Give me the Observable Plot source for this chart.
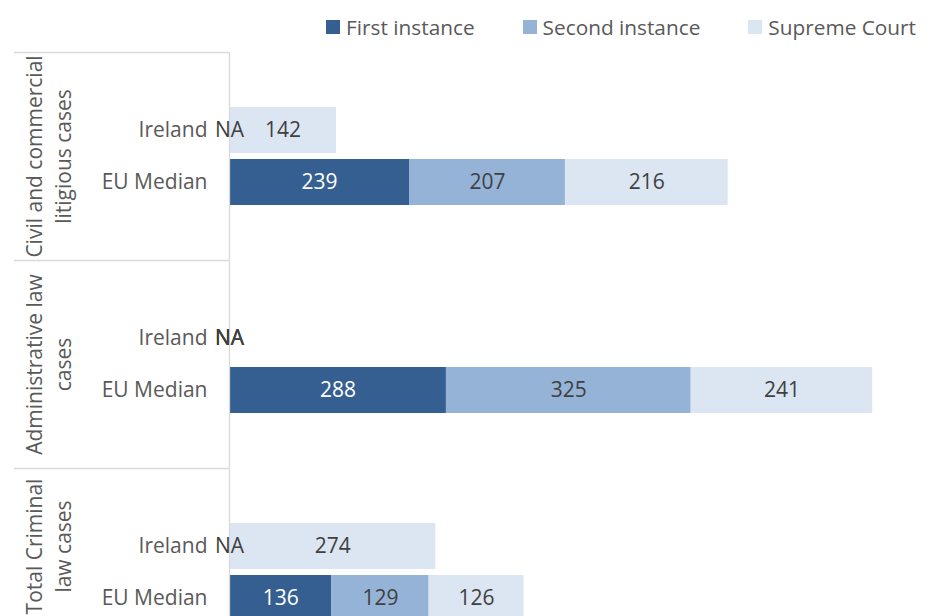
<!DOCTYPE html>
<html><head><meta charset="utf-8">
<script src="https://cdn.jsdelivr.net/npm/d3@7"></script>
<script src="https://cdn.jsdelivr.net/npm/@observablehq/plot@0.6"></script>
<style>
html,body{margin:0;padding:0;background:#fff;overflow:hidden;}
#wrap{position:relative;width:937px;height:616px;overflow:hidden;font-family:"Open Sans",sans-serif;}
#legend{position:absolute;top:12px;right:21px;height:30px;display:flex;align-items:center;gap:48px;font-size:20.8px;color:#595959;}
.item{display:flex;align-items:center;gap:6px;}
.sw{width:14px;height:14px;display:inline-block;}
#chart{position:absolute;top:50px;left:0;}
</style></head><body><div id="wrap"><div id="legend"></div><div id="chart"></div></div>
<script>
const groups = ["Civil and commercial litigious cases", "Administrative law cases", "Total Criminal law cases"];
const groupLabels = ["Civil and commercial\nlitigious cases", "Administrative law\ncases", "Total Criminal\nlaw cases"];
const rows = ["Ireland", "EU Median"];
const series = ["First instance", "Second instance", "Supreme Court"];
const seriesColors = ["#355f91", "#95b3d7", "#dce6f2"];

const irelandFirst = ["NA", "NA", "NA"];
const irelandSecond = [null, "NA", null];
const irelandSupreme = [142, "NA", 274];
const euFirst = [239, 288, 136];
const euSecond = [207, 325, 129];
const euSupreme = [216, 241, 126];

const byRow = {"Ireland": [irelandFirst, irelandSecond, irelandSupreme], "EU Median": [euFirst, euSecond, euSupreme]};

// category slots (Excel layout: a blank slot above each group, and below all but the last)
const keys = [];
groups.forEach((g, i) => {
  keys.push(g + "|top");
  rows.forEach(r => keys.push(g + "|" + r));
  if (i < groups.length - 1) keys.push(g + "|bottom");
});

const table = [];
groups.forEach((g, i) => rows.forEach(r => series.forEach((s, j) => {
  const v = byRow[r][j][i];
  if (v != null) table.push({group: g, row: r, key: g + "|" + r, series: s, value: v});
})));
const bars = table.filter(d => typeof d.value === "number");
const nas = table.filter(d => d.value === "NA");

const H = 566, mTop = 2, mBottom = -8;
const step = (H - mTop - mBottom) / keys.length;
const FS = 21;

const groupMarks = groups.map((g, i) => {
  const slots = keys.filter(k => k.startsWith(g + "|")).length;
  return Plot.text([groupLabels[i]], {
    y: () => g + "|" + rows[0], text: d => d, frameAnchor: "left", dx: -182,
    dy: slots === 4 ? step / 2 : 0, rotate: -90, lineHeight: 1.35,
    textAnchor: "middle", fill: "#595959", fontSize: FS
  });
});

const chart = Plot.plot({
  width: 937, height: H,
  marginLeft: 229, marginRight: 0, marginTop: mTop, marginBottom: mBottom,
  style: {fontFamily: "'Open Sans', sans-serif", fontSize: FS + "px", color: "#595959", background: "white", overflow: "hidden"},
  x: {domain: [0, 940], axis: null},
  y: {domain: keys, paddingInner: 0.115, paddingOuter: 0.0575, tickSize: 0, tickPadding: 22, label: null,
      tickFormat: k => (k.endsWith("|top") || k.endsWith("|bottom")) ? "" : k.split("|")[1]},
  color: {domain: series, range: seriesColors},
  marks: [
    Plot.barX(bars, Plot.stackX({x: "value", y: "key", fill: "series"})),
    Plot.ruleX([0], {stroke: "#d9d9d9", strokeWidth: 1.3}),
    Plot.ruleY(groups.map(g => g + "|top"), {y: d => d, dy: -step / 2, insetLeft: -215, insetRight: 708, stroke: "#d9d9d9", strokeWidth: 1.3}),
    Plot.text(bars, Plot.filter(d => d.series === series[0], Plot.stackX({x: "value", y: "key", text: d => String(d.value), fill: "white", fontSize: FS}))),
    Plot.text(bars, Plot.filter(d => d.series !== series[0], Plot.stackX({x: "value", y: "key", text: d => String(d.value), fill: "#404040", fontSize: FS}))),
    Plot.text(nas, {x: 0, y: "key", text: d => d.value, fill: "#404040", fontSize: FS}),
    ...groupMarks
  ]
});
document.getElementById("chart").appendChild(chart);

const legend = document.getElementById("legend");
series.forEach((s, i) => {
  const item = document.createElement("div");
  item.className = "item";
  item.innerHTML = `<span class="sw" style="background:${seriesColors[i]}"></span><span>${s}</span>`;
  legend.appendChild(item);
});
</script></body></html>
